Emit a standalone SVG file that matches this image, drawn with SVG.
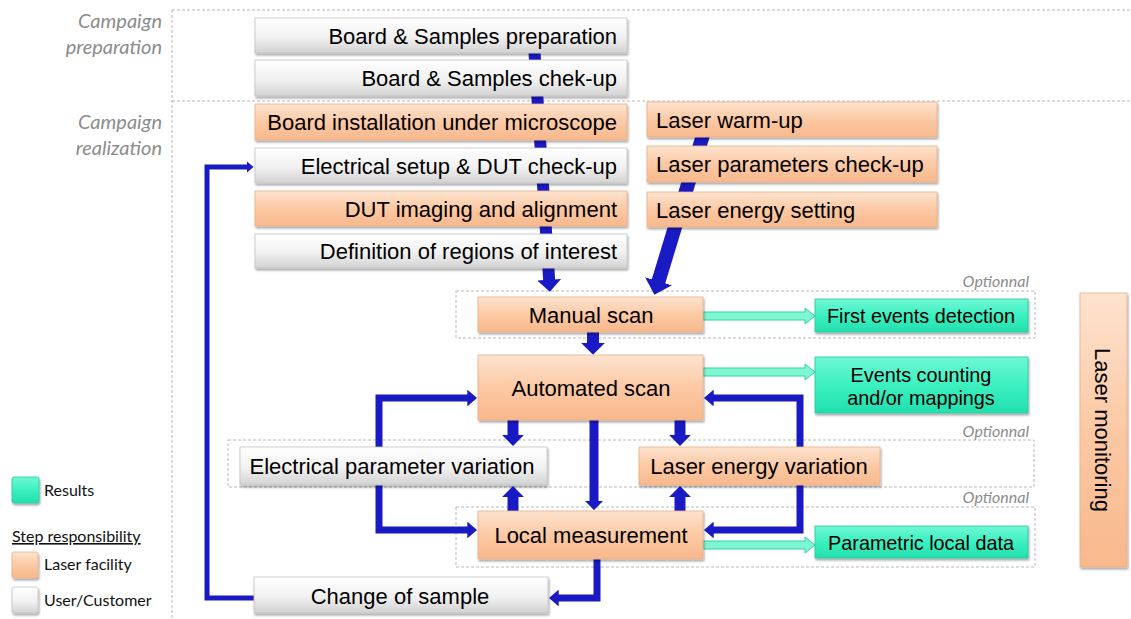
<svg xmlns="http://www.w3.org/2000/svg" width="1131" height="619" viewBox="0 0 1131 619">
  <style>
    .box text { font-family: "Liberation Sans", Arial, sans-serif; font-size: 22px; fill: #000; }
    .box text.r { font-size: 19.8px; }
    .gray { fill: url(#gGray); stroke: #c4c4c4; stroke-width: 0.8; filter: url(#shadow); }
    .orange { fill: url(#gOrange); stroke: #e8b08a; stroke-width: 0.8; filter: url(#shadow); }
    .teal { fill: url(#gTeal); stroke: #22c89a; stroke-width: 0.8; filter: url(#shadow); }
    .frame { fill: none; stroke: #b8b8b8; stroke-width: 1; stroke-dasharray: 3 2; }
    .phase { font-family: Lato, "Open Sans", sans-serif; font-style: italic; font-size: 20px; fill: #8c8c8c; }
    .opt { font-family: Lato, "Open Sans", sans-serif; font-style: italic; font-size: 16px; fill: #8c8c8c; }
    .legend { font-family: Lato, "Open Sans", sans-serif; font-size: 16px; fill: #111; }
    .flow { fill: none; stroke: #1a1ac4; stroke-linejoin: miter; }
    .res { fill: #7ff6d2; stroke: #2fd3a4; stroke-width: 1; }
  </style>
  <defs>
    <linearGradient id="gGray" x1="0" y1="0" x2="0" y2="1">
      <stop offset="0" stop-color="#ffffff"/>
      <stop offset="0.55" stop-color="#f1f1f1"/>
      <stop offset="1" stop-color="#d2d2d2"/>
    </linearGradient>
    <linearGradient id="gOrange" x1="0" y1="0" x2="0" y2="1">
      <stop offset="0" stop-color="#fde3cf"/>
      <stop offset="0.5" stop-color="#fcc9a4"/>
      <stop offset="1" stop-color="#f8b88c"/>
    </linearGradient>
    <linearGradient id="gTeal" x1="0" y1="0" x2="0" y2="1">
      <stop offset="0" stop-color="#6ff8d6"/>
      <stop offset="0.5" stop-color="#3cf0c0"/>
      <stop offset="1" stop-color="#22dfae"/>
    </linearGradient>
    <filter id="shadow" x="-5%" y="-10%" width="115%" height="140%">
      <feDropShadow dx="1" dy="2" stdDeviation="1.2" flood-color="#000" flood-opacity="0.35"/>
    </filter>
    <marker id="hd" viewBox="0 0 10 20" refX="1" refY="10" markerWidth="1" markerHeight="2" orient="auto">
      <path d="M0,0 L10,10 L0,20 z" fill="#1a1ac4"/>
    </marker>
    <marker id="hd2" viewBox="0 0 14 24" refX="1" refY="12" markerWidth="1.4" markerHeight="2.4" orient="auto">
      <path d="M0,0 L14,12 L0,24 z" fill="#1a1ac4"/>
    </marker>
  </defs>

  <!-- phase frame -->
  <g id="phases">
    <path class="frame" d="M172,10 H1131 M172,101 H1131 M172,10 V619"/>
    <text class="phase" x="162" y="28" text-anchor="end">Campaign</text>
    <text class="phase" x="162" y="54" text-anchor="end">preparation</text>
    <text class="phase" x="162" y="129" text-anchor="end">Campaign</text>
    <text class="phase" x="162" y="155" text-anchor="end">realization</text>
  </g>

  <!-- optional zones -->
  <g id="optional-zones">
    <rect class="frame" x="456" y="291" width="579" height="47"/>
    <rect class="frame" x="228" y="440" width="806" height="47"/>
    <rect class="frame" x="456" y="507" width="579" height="60"/>
    <text class="opt" x="1029" y="287" text-anchor="end">Optionnal</text>
    <text class="opt" x="1029" y="437" text-anchor="end">Optionnal</text>
    <text class="opt" x="1029" y="503" text-anchor="end">Optionnal</text>
  </g>

  <!-- connectors -->
  <g id="connectors">
    <path class="flow" stroke-width="12" d="M534,45 L549.2,281" marker-end="url(#hd)"/>
    <path class="flow" stroke-width="14" d="M706,125 L658.1,282.6" marker-end="url(#hd)"/>
    <path class="flow" stroke-width="12" d="M593,332 V344" marker-end="url(#hd)"/>
    <path class="flow" stroke-width="11" d="M513,420 V436" marker-end="url(#hd)"/>
    <path class="flow" stroke-width="9" d="M594,420 V502" marker-end="url(#hd)"/>
    <path class="flow" stroke-width="11" d="M680,420 V436" marker-end="url(#hd)"/>
    <path class="flow" stroke-width="11" d="M513,511 V496" marker-end="url(#hd)"/>
    <path class="flow" stroke-width="11" d="M680,511 V496" marker-end="url(#hd)"/>
    <path class="flow" stroke-width="7" d="M379,447 V398 H468" marker-end="url(#hd2)"/>
    <path class="flow" stroke-width="7" d="M379,485 V530 H468" marker-end="url(#hd2)"/>
    <path class="flow" stroke-width="7" d="M800,447 V398 H713" marker-end="url(#hd2)"/>
    <path class="flow" stroke-width="7" d="M800,485 V530 H713" marker-end="url(#hd2)"/>
    <path class="flow" stroke-width="7" d="M597,559 V598 H558" marker-end="url(#hd2)"/>
    <path class="flow" stroke-width="5" d="M254,598 H207 V167 H247" marker-end="url(#hd2)"/>
    <polygon class="res" points="703,312 805,312 805,308 815,316 805,324 805,320 703,320"/>
    <polygon class="res" points="703,368 805,368 805,364 815,372 805,380 805,376 703,376"/>
    <polygon class="res" points="703,541 805,541 805,537 815,545 805,553 805,549 703,549"/>
  </g>

  <!-- preparation steps -->
  <g id="board-prep" class="box">
    <rect class="gray" x="255" y="18" width="372" height="35"/>
    <text x="617" y="44" text-anchor="end">Board &amp; Samples preparation</text>
  </g>
  <g id="board-checkup" class="box">
    <rect class="gray" x="255" y="60" width="372" height="36"/>
    <text x="617" y="86" text-anchor="end">Board &amp; Samples chek-up</text>
  </g>

  <!-- realization steps -->
  <g id="board-install" class="box">
    <rect class="orange" x="255" y="104" width="372" height="36"/>
    <text x="617" y="130" text-anchor="end">Board installation under microscope</text>
  </g>
  <g id="elec-setup" class="box">
    <rect class="gray" x="255" y="148" width="372" height="35"/>
    <text x="617" y="174" text-anchor="end">Electrical setup &amp; DUT check-up</text>
  </g>
  <g id="dut-imaging" class="box">
    <rect class="orange" x="255" y="191" width="372" height="35"/>
    <text x="617" y="217" text-anchor="end">DUT imaging and alignment</text>
  </g>
  <g id="regions" class="box">
    <rect class="gray" x="255" y="234" width="372" height="34"/>
    <text x="617" y="259" text-anchor="end">Definition of regions of interest</text>
  </g>

  <g id="laser-warmup" class="box">
    <rect class="orange" x="647" y="102" width="290" height="35"/>
    <text x="656" y="128">Laser warm-up</text>
  </g>
  <g id="laser-params" class="box">
    <rect class="orange" x="647" y="146" width="290" height="36"/>
    <text x="656" y="172">Laser parameters check-up</text>
  </g>
  <g id="laser-energy" class="box">
    <rect class="orange" x="647" y="192" width="290" height="35"/>
    <text x="656" y="218">Laser energy setting</text>
  </g>

  <g id="manual-scan" class="box">
    <rect class="orange" x="478" y="297" width="225" height="35"/>
    <text x="591" y="323" text-anchor="middle">Manual scan</text>
  </g>
  <g id="first-events" class="box">
    <rect class="teal" x="815" y="299" width="213" height="33"/>
    <text class="r" x="921" y="323" text-anchor="middle">First events detection</text>
  </g>

  <g id="automated-scan" class="box">
    <rect class="orange" x="478" y="355" width="225" height="65"/>
    <text x="591" y="396" text-anchor="middle">Automated scan</text>
  </g>
  <g id="events-counting" class="box">
    <rect class="teal" x="815" y="357" width="213" height="56"/>
    <text class="r" x="921" y="382" text-anchor="middle">Events counting</text>
    <text class="r" x="921" y="405" text-anchor="middle">and/or mappings</text>
  </g>

  <g id="elec-variation" class="box">
    <rect class="gray" x="240" y="447" width="307" height="38"/>
    <text x="392" y="474" text-anchor="middle">Electrical parameter variation</text>
  </g>
  <g id="laser-variation" class="box">
    <rect class="orange" x="639" y="447" width="241" height="38"/>
    <text x="759" y="474" text-anchor="middle">Laser energy variation</text>
  </g>

  <g id="local-measurement" class="box">
    <rect class="orange" x="478" y="511" width="225" height="48"/>
    <text x="591" y="543" text-anchor="middle">Local measurement</text>
  </g>
  <g id="parametric-data" class="box">
    <rect class="teal" x="815" y="526" width="213" height="32"/>
    <text class="r" x="921" y="550" text-anchor="middle">Parametric local data</text>
  </g>

  <g id="change-sample" class="box">
    <rect class="gray" x="254" y="577" width="294" height="36"/>
    <text x="400" y="604" text-anchor="middle">Change of sample</text>
  </g>

  <g id="laser-monitoring" class="box">
    <rect class="orange" x="1080" y="293" width="47" height="274"/>
    <text transform="translate(1095,430) rotate(90)" text-anchor="middle">Laser monitoring</text>
  </g>

  <!-- legend -->
  <g id="legend">
    <rect class="teal" x="12" y="477" width="27" height="26" rx="2"/>
    <text class="legend" x="44" y="496">Results</text>
    <text class="legend" x="12" y="542" text-decoration="underline">Step responsibility</text>
    <rect class="orange" x="12" y="552" width="26" height="26" rx="2"/>
    <text class="legend" x="44" y="570">Laser facility</text>
    <rect class="gray" x="12" y="587" width="26" height="26" rx="2"/>
    <text class="legend" x="44" y="606">User/Customer</text>
  </g>
</svg>
